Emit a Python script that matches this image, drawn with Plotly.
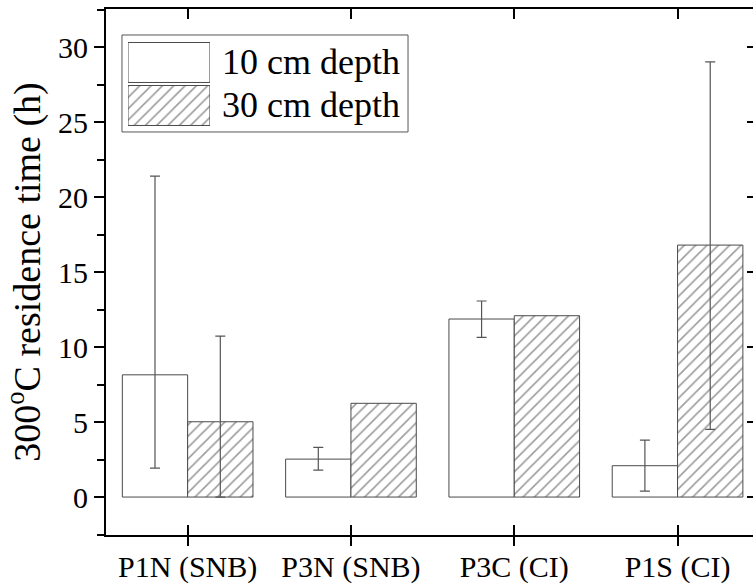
import plotly.graph_objects as go

# Sites and measured 300 °C residence times (hours)
sites = ["P1N (SNB)", "P3N (SNB)", "P3C (CI)", "P1S (CI)"]
series_names = ["10 cm depth", "30 cm depth"]

depth10 = [8.15, 2.53, 11.87, 2.09]
depth10_err_up = [13.25, 0.78, 1.20, 1.71]
depth10_err_down = [6.22, 0.73, 1.22, 1.69]

depth30 = [5.02, 6.25, 12.09, 16.80]
depth30_err_up = [5.71, None, None, 12.22]
depth30_err_down = [5.02, None, None, 12.29]

y_ticks = [0, 5, 10, 15, 20, 25, 30]

FONT = "Liberation Serif"
OUTLINE = "#4a4a4a"
ERR = "#555555"
HATCH = "#3a3a3a"
positions = list(range(len(sites)))
y_range = [-2.53, 32.54]
x_range = [-0.5, 3.462]
BARGAP = 0.2
bar_w = (1 - BARGAP) / 2  # two bars per site

hatch = dict(shape="/", fgcolor=HATCH, bgcolor="white", size=8, solidity=0.2)
plain = dict(shape="", bgcolor="white")

fig = go.Figure()

fig.add_trace(go.Bar(
    x=positions, y=depth10, name=series_names[0],
    marker=dict(color="white", line=dict(color=OUTLINE, width=1), pattern=plain),
    error_y=dict(type="data", symmetric=False, array=depth10_err_up,
                 arrayminus=depth10_err_down, color=ERR, thickness=1.2, width=5),
    showlegend=False,
))
fig.add_trace(go.Bar(
    x=positions, y=depth30, name=series_names[1],
    marker=dict(color="white", line=dict(color=OUTLINE, width=1), pattern=hatch),
    showlegend=False,
))

# error bars of the 30 cm series, only where a spread was measured
has_err = [u is not None for u in depth30_err_up]
fig.add_trace(go.Scatter(
    x=[p + bar_w / 2 for p in positions],
    y=[v if ok else None for v, ok in zip(depth30, has_err)],
    mode="markers", marker=dict(opacity=0, size=1),
    error_y=dict(type="data", symmetric=False,
                 array=[u if u is not None else 0 for u in depth30_err_up],
                 arrayminus=[d if d is not None else 0 for d in depth30_err_down],
                 color=ERR, thickness=1.2, width=5),
    hoverinfo="skip", showlegend=False,
))

# helper traces so the extra tick axes (bottom-outside / right) get drawn
fig.add_trace(go.Scatter(x=positions, y=depth10, xaxis="x2", yaxis="y",
                         mode="markers", marker=dict(opacity=0), hoverinfo="skip",
                         showlegend=False))
fig.add_trace(go.Scatter(x=positions, y=depth10, xaxis="x", yaxis="y2",
                         mode="markers", marker=dict(opacity=0), hoverinfo="skip",
                         showlegend=False))

# legend swatches drawn as a tiny bar subplot
legend_rows = list(range(len(series_names)))
fig.add_trace(go.Bar(
    x=[1] * len(series_names), y=legend_rows, orientation="h", width=0.93,
    xaxis="x3", yaxis="y3",
    marker=dict(color="white", line=dict(color=OUTLINE, width=1),
                pattern=dict(shape=["", "/"], fgcolor=HATCH, bgcolor="white",
                             size=8, solidity=0.2)),
    hoverinfo="skip", showlegend=False,
))

for i, label in enumerate(series_names):
    fig.add_annotation(text=label, xref="paper", yref="y3", x=0.1762, y=legend_rows[i],
                       xanchor="left", yanchor="middle", showarrow=False,
                       font=dict(family=FONT, size=36, color="black"))

fig.add_shape(type="rect", xref="paper", yref="paper",
              x0=0.0247, x1=0.4668, y0=0.7662, y1=0.9506,
              line=dict(color="#555555", width=1), fillcolor="rgba(0,0,0,0)")

fig.update_layout(
    width=753, height=585,
    margin=dict(l=106, r=0, t=9, b=50),
    paper_bgcolor="white", plot_bgcolor="white",
    barmode="group", bargap=BARGAP, bargroupgap=0,
    font=dict(family=FONT, color="black"),
    # main x axis: inside ticks mirrored to the top frame, labels below
    xaxis=dict(
        range=x_range, tickvals=positions, ticktext=sites,
        ticks="inside", ticklen=10, tickwidth=2, tickcolor="black",
        showline=True, linecolor="black", linewidth=2, mirror="ticks",
        ticklabelstandoff=4, automargin=False,
        showgrid=False, zeroline=False,
        tickfont=dict(family=FONT, size=30, color="black"),
    ),
    # outward ticks under the bottom frame
    xaxis2=dict(
        range=x_range, overlaying="x", side="bottom", anchor="y",
        tickvals=positions, ticks="outside", ticklen=10, tickwidth=2, tickcolor="black",
        showticklabels=False, showline=False, showgrid=False, zeroline=False,
        automargin=False,
    ),
    yaxis=dict(
        range=y_range, tickvals=y_ticks,
        ticks="outside", ticklen=10, tickwidth=2, tickcolor="black",
        minor=dict(ticks="outside", ticklen=7, tickwidth=2, tickcolor="black",
                   tick0=2.5, dtick=5, showgrid=False),
        showline=True, linecolor="black", linewidth=2,
        showgrid=False, zeroline=False, automargin=False,
        tickfont=dict(family=FONT, size=30, color="black"),
        title=dict(text="300<sup>o</sup>C residence time (h)", standoff=8,
                   font=dict(family=FONT, size=38, color="black")),
    ),
    yaxis2=dict(
        range=y_range, overlaying="y", side="right", anchor="x",
        tickvals=y_ticks, ticks="inside", ticklen=6, tickwidth=2, tickcolor="black",
        showticklabels=False, showline=False, showgrid=False, zeroline=False,
        automargin=False,
    ),
    xaxis3=dict(domain=[0.0340, 0.1607], range=[0, 1], anchor="y3",
                visible=False, fixedrange=True),
    yaxis3=dict(domain=[0.7757, 0.9392], range=[1.5, -0.5], anchor="x3",
                visible=False, fixedrange=True),
)

fig.write_html("out.html")
